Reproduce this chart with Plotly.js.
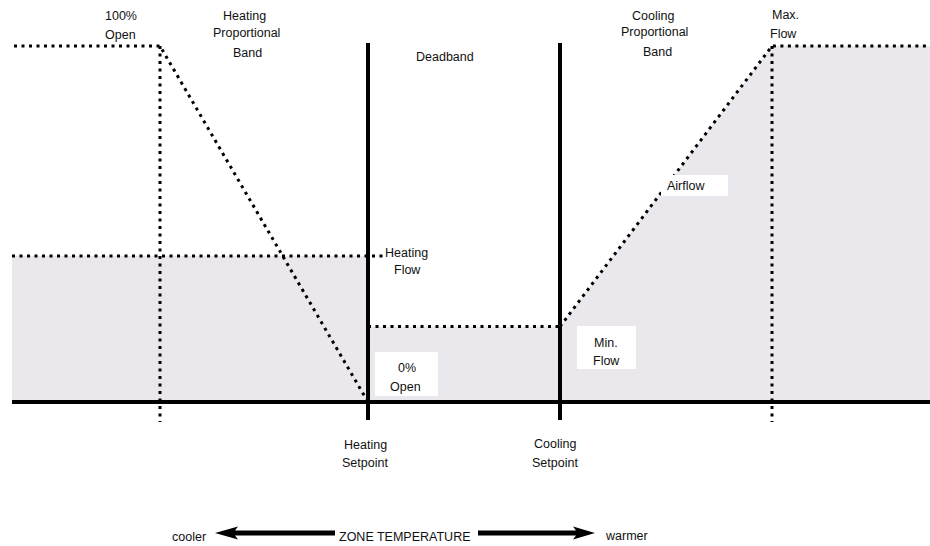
<!DOCTYPE html>
<html>
<head>
<meta charset="utf-8">
<script src="https://cdn.plot.ly/plotly-3.0.1.min.js"></script>
<style>html,body{margin:0;padding:0;background:#fff;}#chart{width:930px;height:546px;}</style>
</head>
<body>
<div id="chart"></div>
<script>
// ---- data (zone temperature position along x, flow / valve % along y) ----
const setpointNames = ['100% Open', 'Heating Setpoint', 'Cooling Setpoint', 'Max. Flow'];
const setpointX = [160, 368, 560, 772];
const edgeX = [12, 930];

const heatingFlow = 41;
const minFlow = 21.2;
const maxFlow = 100;

const airflowX = [12, 368, 368, 560, 772, 930];
const airflowY = [41, 41, 21.2, 21.2, 100, 100];

const valveX = [14, 160, 368];
const valveY = [100, 100, 0];

const heatFlowLineX = [12, 383];
const heatFlowLineY = [41, 41];
const minFlowLineX = [368, 560];
const minFlowLineY = [21.2, 21.2];
const coolFlowLineX = [560, 772, 930];
const coolFlowLineY = [21.2, 100, 100];

// ---- layout helpers ----
const W = 930, H = 546;
const BASE_PX = 402, PX_PER_PCT = 3.56;
const yFromPx = p => (BASE_PX - p) / PX_PER_PCT;
const paperY = p => 1 - p / H;

const FONT = {family: 'Liberation Sans, Arial, sans-serif', size: 12.5, color: '#111'};
const dotted = {color: '#000', width: 3, dash: '3px,4.5px'};
const solid = {color: '#000', width: 4};

function line(x, y, ln) {
  return {x: x, y: y, type: 'scatter', mode: 'lines', line: ln, hoverinfo: 'skip', showlegend: false};
}

const traces = [
  {x: airflowX, y: airflowY, type: 'scatter', mode: 'lines', fill: 'tozeroy',
   fillcolor: '#eae8ec', line: {width: 0, color: '#eae8ec'}, hoverinfo: 'skip', showlegend: false},
  line(valveX, valveY, dotted),
  line([setpointX[0], setpointX[0]], [maxFlow, yFromPx(422)], dotted),
  line([setpointX[3], setpointX[3]], [maxFlow, yFromPx(422)], dotted),
  line(heatFlowLineX, heatFlowLineY, dotted),
  line(minFlowLineX, minFlowLineY, dotted),
  line(coolFlowLineX, coolFlowLineY, dotted),
  line([setpointX[1], setpointX[1]], [yFromPx(43), yFromPx(420)], solid),
  line([setpointX[2], setpointX[2]], [yFromPx(43), yFromPx(420)], solid),
  line(edgeX, [0, 0], solid)
];

function ann(text, x, ypx, extra) {
  return Object.assign({text: text, x: x, xref: 'x', y: paperY(ypx), yref: 'paper',
    showarrow: false, font: FONT, xanchor: 'center', yanchor: 'middle'}, extra || {});
}
// label lines: [text, centre x, centre y] in picture pixels
const labelLines = [
  ['100%', 121, 16], ['Open', 120.5, 35],
  ['Heating', 244.5, 16], ['Proportional', 246, 33], ['Band', 247, 53],
  ['Deadband', 445, 57],
  ['Cooling', 653, 15.7], ['Proportional', 654, 32.3], ['Band', 657, 51.7],
  ['Max.', 785, 15], ['Flow', 783, 34],
  ['Heating', 406.5, 253], ['Flow', 407, 270],
  ['0%', 407, 368], ['Open', 405.5, 386.5],
  ['Min.', 606, 343], ['Flow', 606, 361],
  ['Heating', 365, 445], ['Setpoint', 365, 463],
  ['Cooling', 555, 444], ['Setpoint', 555, 463],
  ['cooler', 189, 537], ['ZONE TEMPERATURE', 405, 537], ['warmer', 626, 536]
];
const annotations = labelLines.map(l => ann(l[0], l[1], l[2]));
annotations.push(ann('Airflow', 665, 186, {xanchor: 'left'}));

function rectPx(x0, x1, y0, y1) {
  return {type: 'rect', xref: 'x', yref: 'y', x0: x0, x1: x1, y0: yFromPx(y1), y1: yFromPx(y0),
    fillcolor: '#fff', line: {width: 0}, layer: 'above'};
}
function pathPx(pts) {
  return 'M' + pts.map(p => p[0] + ',' + yFromPx(p[1])).join('L') + 'Z';
}
const AY = 533;
const leftArrow = pathPx([[215, AY], [238, AY - 6.5], [235, AY - 2.5], [335, AY - 2.5], [335, AY + 2.5], [235, AY + 2.5], [238, AY + 6.5]]);
const rightArrow = pathPx([[595, AY], [573, AY - 6.5], [576, AY - 2.5], [478, AY - 2.5], [478, AY + 2.5], [576, AY + 2.5], [573, AY + 6.5]]);

const shapes = [
  rectPx(661, 728, 175, 196),
  rectPx(375, 438, 352, 396),
  rectPx(577, 636, 326, 369),
  {type: 'path', xref: 'x', yref: 'y', path: leftArrow, fillcolor: '#000', line: {width: 0}, layer: 'above'},
  {type: 'path', xref: 'x', yref: 'y', path: rightArrow, fillcolor: '#000', line: {width: 0}, layer: 'above'}
];

const layout = {
  width: W, height: H,
  margin: {l: 0, r: 0, t: 0, b: 0, pad: 0},
  paper_bgcolor: '#fff', plot_bgcolor: '#fff',
  xaxis: {range: [0, W], visible: false, fixedrange: true},
  yaxis: {range: [yFromPx(H), yFromPx(0)], visible: false, fixedrange: true},
  showlegend: false,
  annotations: annotations,
  shapes: shapes
};

Plotly.newPlot('chart', traces, layout, {staticPlot: true, displayModeBar: false});
</script>
</body>
</html>
